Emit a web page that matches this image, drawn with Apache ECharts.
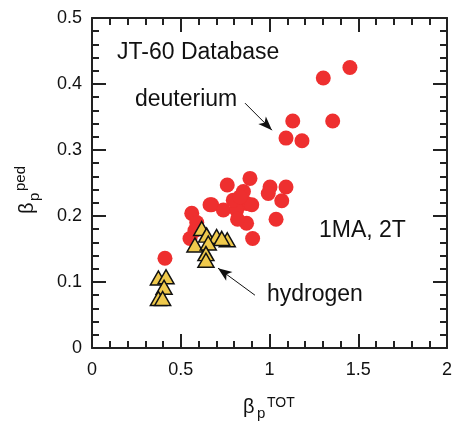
<!DOCTYPE html>
<html>
<head>
<meta charset="utf-8">
<script src="https://cdn.jsdelivr.net/npm/echarts@6/dist/echarts.min.js"></script>
<style>
  html, body { margin: 0; padding: 0; background: #fff; }
  #main { width: 458px; height: 421px; }
</style>
</head>
<body>
<div id="main"></div>
<script>
// beta_p TOT / beta_p ped
var deutBetaTot = [1.453, 1.303, 1.131, 1.356, 1.093, 1.183, 0.890, 0.762, 1.003, 1.093,
    0.993, 1.069, 0.853, 0.871, 0.674, 0.740, 0.815, 0.900, 0.796, 0.834,
    0.871, 1.037, 0.905, 0.562, 0.552, 0.411, 0.665, 0.580, 0.590, 0.820];
var deutBetaPed = [0.425, 0.409, 0.344, 0.344, 0.318, 0.314, 0.257, 0.247, 0.244, 0.244,
    0.234, 0.223, 0.237, 0.219, 0.217, 0.209, 0.209, 0.217, 0.224, 0.229,
    0.189, 0.195, 0.166, 0.204, 0.166, 0.136, 0.217, 0.178, 0.190, 0.195];

var hydBetaTot = [0.618, 0.646, 0.702, 0.762, 0.731, 0.580, 0.655, 0.642, 0.642,
    0.374, 0.417, 0.406, 0.374, 0.398];
var hydBetaPed = [0.181, 0.171, 0.169, 0.164, 0.166, 0.156, 0.159, 0.143, 0.133,
    0.106, 0.108, 0.092, 0.075, 0.075];

// arrows [from, to] in data units
var deutArrow = [[0.862, 0.371], [1.014, 0.330]];
var hydArrow = [[0.918, 0.080], [0.710, 0.121]];

(function(){
    var myChart = echarts.init(document.getElementById('main'));
    var font = 'Liberation Sans, Arial, sans-serif';

    function pairs(xs, ys) {
        return xs.map(function(x, i){ return [x, ys[i]]; });
    }

    var axisCommon = {
        axisLine: { onZero: false, lineStyle: { color: '#222', width: 2 } },
        axisTick: { inside: true, length: 14, lineStyle: { color: '#222', width: 2 } },
        minorTick: { show: true, splitNumber: 5, length: 7, lineStyle: { color: '#222', width: 2 } },
        splitLine: { show: false }
    };

    function arrowLine(a) {
        return [{ coord: a[0], symbol: 'none' }, { coord: a[1], symbol: 'arrow', symbolSize: [8, 14] }];
    }

    function label(x, y, text) {
        return { type: 'text', x: x, y: y,
            style: { text: text, fontSize: 23, fontFamily: font, fill: '#111', verticalAlign: 'middle' } };
    }

    var option = {
        backgroundColor: '#fff',
        animation: false,
        grid: { left: 92, right: 11, top: 18, bottom: 73 },
        xAxis : [
            Object.assign({
                type : 'value', min: 0, max: 2, interval: 0.5, position: 'bottom',
                axisLabel: { color: '#111', fontSize: 18, fontFamily: font, margin: 13 }
            }, axisCommon),
            Object.assign({
                type : 'value', min: 0, max: 2, interval: 0.5, position: 'top',
                axisLabel: { show: false }
            }, axisCommon)
        ],
        yAxis : [
            Object.assign({
                type : 'value', min: 0, max: 0.5, interval: 0.1, position: 'left',
                axisLabel: { color: '#111', fontSize: 18, fontFamily: font, margin: 10 }
            }, axisCommon),
            Object.assign({
                type : 'value', min: 0, max: 0.5, interval: 0.1, position: 'right',
                axisLabel: { show: false }
            }, axisCommon)
        ],
        graphic: [
            label(117, 53, 'JT-60 Database'),
            label(135, 100, 'deuterium'),
            label(319, 231, '1MA, 2T'),
            label(267, 295, 'hydrogen'),
            // x axis name
            { type: 'group', x: 243, y: 397, children: [
                { type: 'text', x: 0, y: 0, style: { text: 'β', fontSize: 20, fontFamily: font, fill: '#111' } },
                { type: 'text', x: 14, y: 9, style: { text: 'p', fontSize: 15, fontFamily: font, fill: '#111' } },
                { type: 'text', x: 24, y: -1, style: { text: 'TOT', fontSize: 14, fontFamily: font, fill: '#111' } }
            ]},
            // y axis name
            { type: 'group', x: 17, y: 214, rotation: Math.PI / 2, children: [
                { type: 'text', x: 0, y: 0, style: { text: 'β', fontSize: 20, fontFamily: font, fill: '#111' } },
                { type: 'text', x: 13, y: 10, style: { text: 'p', fontSize: 15, fontFamily: font, fill: '#111' } },
                { type: 'text', x: 23, y: -4, style: { text: 'ped', fontSize: 15, fontFamily: font, fill: '#111' } }
            ]}
        ],
        series : [
            {
                name: 'deuterium',
                type: 'scatter',
                symbol: 'circle',
                symbolSize: 15,
                itemStyle: { color: '#ee2f2f', opacity: 1 },
                data: pairs(deutBetaTot, deutBetaPed),
                markLine: {
                    silent: true,
                    lineStyle: { color: '#111', width: 1, type: 'solid' },
                    label: { show: false },
                    data: [arrowLine(deutArrow), arrowLine(hydArrow)]
                }
            },
            {
                name: 'hydrogen',
                type: 'scatter',
                symbol: 'triangle',
                symbolSize: [16, 14],
                itemStyle: { color: '#efc94c', borderColor: '#111', borderWidth: 1.5, opacity: 1 },
                data: pairs(hydBetaTot, hydBetaPed)
            }
        ]
    };
    myChart.setOption(option);
})();
</script>
</body>
</html>
